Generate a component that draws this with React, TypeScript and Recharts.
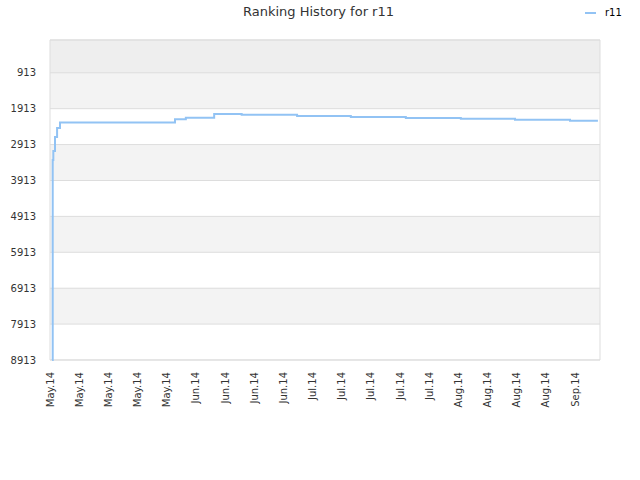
import React from "react";
import { LineChart, Line, XAxis, YAxis, CartesianGrid, ReferenceArea } from "recharts";

// Day index since 1 May 2014
const days = [0.5, 0.65, 0.8, 1.2, 1.7, 2.4, 30, 32.6, 39.4, 46, 59.3, 72.2, 85.4, 98.6, 111.6, 124.8, 131.5];
const ranks = [8913, 3342, 3090, 2700, 2450, 2298, 2208, 2164, 2061, 2083, 2117, 2144, 2172, 2195, 2222, 2250, 2250];

const yTicks = [913, 1913, 2913, 3913, 4913, 5913, 6913, 7913, 8913];
const xTickDays = [0, 7, 14, 21, 28, 35, 42, 49, 56, 63, 70, 77, 84, 91, 98, 105, 112, 119, 126];
const xTickLabels = [
  "May.14", "May.14", "May.14", "May.14", "May.14",
  "Jun.14", "Jun.14", "Jun.14", "Jun.14",
  "Jul.14", "Jul.14", "Jul.14", "Jul.14", "Jul.14",
  "Aug.14", "Aug.14", "Aug.14", "Aug.14",
  "Sep.14",
];

const seriesName = "r11";
const title = "Ranking History for r11";

const data = days.map((d, i) => ({ day: d, rank: ranks[i] }));

const bandFills = ["#eeeeee", "#f3f3f3", "#ffffff", "#f3f3f3", "#ffffff", "#f3f3f3", "#ffffff", "#f3f3f3", "#ffffff"];
const lineColor = "#92c3f4";
const font = "'DejaVu Sans', sans-serif";

const XTick = (props: any) => {
  const { x, y, payload } = props;
  const idx = xTickDays.indexOf(payload.value);
  const label = idx >= 0 ? xTickLabels[idx] : "";
  const ty = y + 4;
  return (
    <text
      x={x}
      y={ty}
      transform={`rotate(-90, ${x}, ${ty})`}
      textAnchor="end"
      dy="0.35em"
      fontSize={10}
      fill="#333333"
      fontFamily={font}
    >
      {label}
    </text>
  );
};

export default function App() {
  return (
    <div style={{ position: "absolute", left: 0, top: 0, width: 640, height: 480, fontFamily: font, background: "#fff" }}>
      <div
        style={{
          position: "absolute",
          left: 0,
          top: 4,
          width: 637,
          textAlign: "center",
          fontSize: 13,
          color: "#333333",
          lineHeight: "16px",
        }}
      >
        {title}
      </div>
      <div style={{ position: "absolute", left: 585, top: 6, display: "flex", alignItems: "center", fontSize: 10, color: "#000" }}>
        <div style={{ width: 11, height: 2, background: lineColor, marginRight: 9 }} />
        <span style={{ lineHeight: "14px" }}>{seriesName}</span>
      </div>
      <LineChart width={640} height={480} data={data} margin={{ top: 40, right: 40, left: 0, bottom: 0 }}>
        <CartesianGrid
          vertical={false}
          stroke="#dddddd"
          horizontalFill={bandFills}
          fillOpacity={1}
        />
        <XAxis
          dataKey="day"
          type="number"
          domain={[0, 132]}
          ticks={xTickDays}
          interval={0}
          height={120}
          axisLine={false}
          tickLine={false}
          tick={<XTick />}
        />
        <YAxis
          type="number"
          reversed
          domain={[0, 8913]}
          ticks={yTicks}
          interval={0}
          width={50}
          axisLine={false}
          tickLine={false}
          tickMargin={8}
          tick={{ fontSize: 10, fill: "#333333", fontFamily: font }}
        />
        <ReferenceArea x1={0} x2={132} y1={0} y2={8913} fill="none" stroke="#dddddd" ifOverflow="visible" />
        <Line
          type="stepAfter"
          dataKey="rank"
          stroke={lineColor}
          strokeWidth={2}
          dot={false}
          isAnimationActive={false}
        />
      </LineChart>
    </div>
  );
}
